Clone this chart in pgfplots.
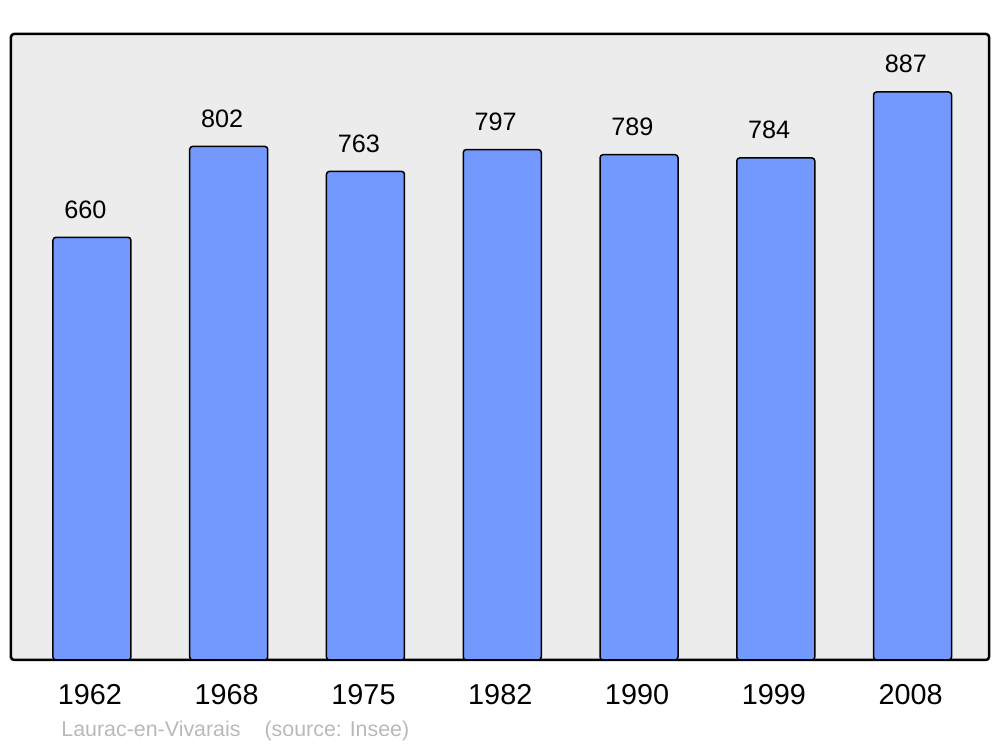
\documentclass[border=0pt]{standalone}
\usepackage{pgfplots}
\pgfplotsset{compat=1.18}
\usepackage{fontspec}
\setmainfont{Liberation Sans}
\definecolor{barblue}{RGB}{115,153,255}
\definecolor{bggray}{RGB}{236,236,236}
\definecolor{footgray}{RGB}{185,185,185}
\begin{document}
\begin{tikzpicture}
\useasboundingbox (-5.5pt,-43.5pt) rectangle (494.5pt,330pt);
\begin{axis}[
  at={(0,0)}, anchor=south west,
  width=489pt, height=313pt, scale only axis,
  xmin=-0.592, xmax=6.559, ymin=0, ymax=977.5,
  axis background/.style={fill=bggray},
  axis line style={line width=1.25pt, rounded corners=1.5pt},
  /pgf/number format/assume math mode=true,
  ytick=\empty,
  xtick=data,
  xticklabels={1962,1968,1975,1982,1990,1999,2008},
  major tick length=0pt,
  xticklabel style={anchor=base, inner sep=0pt, yshift=-22.5pt, xshift=-1pt, font=\fontsize{14.4}{16}\selectfont},
  ybar, bar width=39pt, bar shift=0pt,
  nodes near coords,
  nodes near coords style={anchor=base, inner sep=0pt, yshift=9.5pt, xshift=-3.3pt, font=\fontsize{12.6}{14}\selectfont, text=black},
  clip=false,
]
\addplot[fill=barblue, draw=black, line width=0.75pt, rounded corners=1.5pt] coordinates {
(0,660) (1,802) (2,763) (3,797) (4,789) (5,784) (6,887)};
\end{axis}
\node[anchor=base west, inner sep=0pt, text=footgray, font=\fontsize{10.7}{12}\selectfont] at (25pt,-38.5pt) {Laurac-en-Vivarais\hspace{12pt}(source: Insee)};
\end{tikzpicture}
\end{document}
